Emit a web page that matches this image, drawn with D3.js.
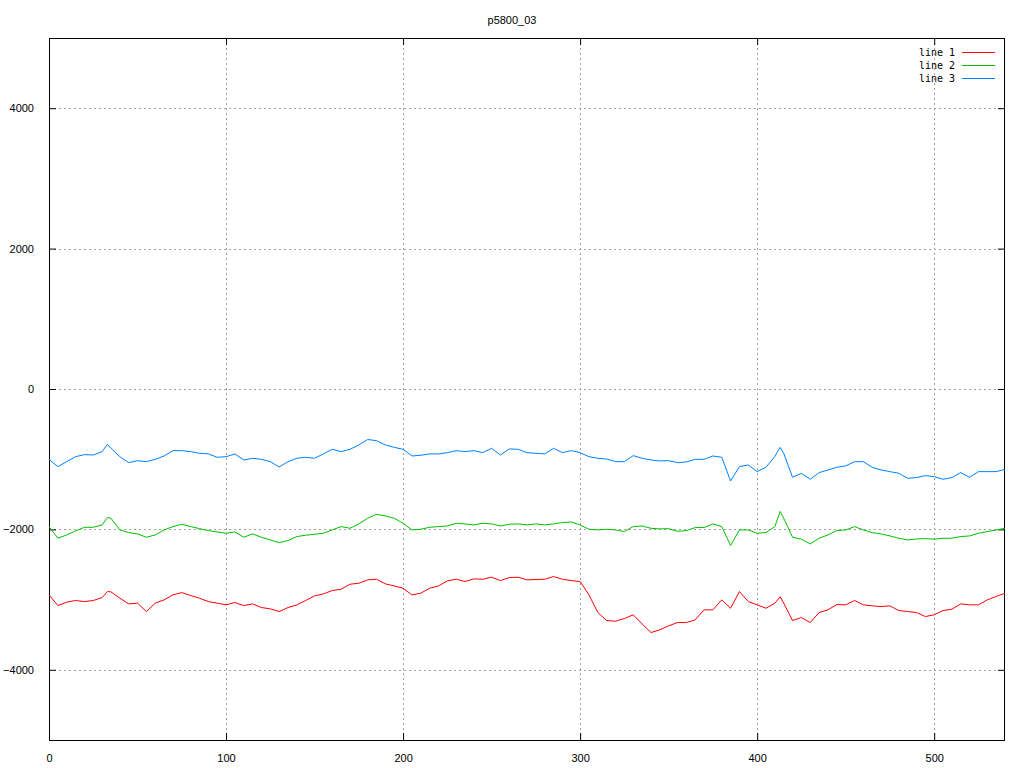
<!DOCTYPE html>
<html>
<head>
<meta charset="utf-8">
<script src="https://cdn.jsdelivr.net/npm/d3@7"></script>
<style>
  html, body { margin: 0; padding: 0; background: #fff; }
  svg { display: block; }
</style>
</head>
<body>
<svg id="chart" width="1024" height="768"></svg>
<script>
const title = "p5800_03";
const seriesNames = ["line 1", "line 2", "line 3"];
const seriesColors = ["#ff0000", "#00c000", "#0080ff"];
const xTicks = [0, 100, 200, 300, 400, 500];
const yTicks = [-4000, -2000, 0, 2000, 4000];

const xValues = [0,5,10,15,20,25,30,33,35,40,45,50,55,60,65,70,75,80,85,90,95,100,105,110,
  115,120,125,130,135,140,145,150,155,160,165,170,175,180,185,190,195,200,205,210,215,220,
  225,230,235,240,245,250,255,260,265,270,275,280,285,290,295,300,305,310,315,320,325,330,335,
  340,345,350,355,360,365,370,375,380,385,390,395,400,405,410,413,415,420,425,430,435,440,445,
  450,455,460,465,470,475,480,485,490,495,500,505,510,515,520,525,530,535,540];

const line1 = [-2933,-3085,-3037,-3013,-3028,-3013,-2971,-2885,-2890,-2980,-3061,-3051,-3170,-3051,-3004,-2933,-2900,-2942,-2980,-3028,-3051,-3075,-3042,-3085,
  -3061,-3113,-3132,-3170,-3113,-3075,-3013,-2947,-2919,-2871,-2852,-2781,-2767,-2719,-2710,-2776,-2805,-2838,-2933,-2909,-2838,-2805,
  -2734,-2710,-2743,-2705,-2710,-2681,-2729,-2686,-2681,-2719,-2714,-2710,-2672,-2710,-2729,-2743,-2933,-3184,-3298,-3308,-3270,-3217,-3346,
  -3469,-3431,-3374,-3327,-3327,-3289,-3146,-3146,-3004,-3123,-2885,-3028,-3075,-3123,-3051,-2960,-3051,-3298,-3256,-3327,-3184,-3146,-3070,
  -3075,-3013,-3075,-3089,-3099,-3089,-3156,-3170,-3184,-3241,-3217,-3156,-3137,-3061,-3075,-3075,-3004,-2956,-2909];

const line2 = [-1960,-2126,-2079,-2022,-1970,-1970,-1936,-1830,-1841,-2008,-2045,-2064,-2112,-2079,-2008,-1960,-1927,-1960,-1989,-2017,-2036,-2055,-2036,-2112,
  -2064,-2112,-2150,-2188,-2159,-2102,-2083,-2069,-2055,-2008,-1960,-1984,-1922,-1841,-1785,-1808,-1841,-1913,-2008,-1998,-1970,-1960,
  -1951,-1913,-1922,-1936,-1913,-1922,-1951,-1927,-1922,-1936,-1922,-1936,-1922,-1903,-1894,-1936,-1998,-2008,-1998,-2008,-2031,-1960,-1951,
  -1984,-1993,-1989,-2027,-2017,-1974,-1974,-1922,-1960,-2230,-2008,-2008,-2055,-2045,-1960,-1745,-1841,-2112,-2140,-2207,-2126,-2079,-2017,
  -2008,-1960,-2008,-2045,-2064,-2093,-2126,-2150,-2136,-2131,-2140,-2126,-2126,-2102,-2093,-2055,-2031,-2008,-1984];

const line3 = [-1002,-1106,-1035,-964,-935,-940,-892,-788,-845,-964,-1049,-1021,-1035,-1002,-954,-878,-878,-892,-916,-925,-973,-964,-925,-1011,
  -987,-1002,-1035,-1110,-1035,-987,-973,-987,-925,-859,-892,-859,-797,-720,-736,-797,-831,-859,-954,-944,-925,-925,
  -907,-878,-892,-878,-907,-845,-940,-854,-859,-907,-916,-925,-845,-907,-878,-907,-964,-987,-997,-1035,-1035,-949,-987,
  -1011,-1025,-1021,-1049,-1040,-1002,-1002,-954,-973,-1310,-1106,-1082,-1177,-1115,-960,-831,-916,-1258,-1201,-1286,-1191,-1153,-1115,
  -1096,-1035,-1035,-1115,-1153,-1177,-1201,-1272,-1262,-1234,-1248,-1286,-1262,-1191,-1258,-1177,-1177,-1177,-1144];

const allSeries = [line1, line2, line3];

const svg = d3.select("#chart");
const W = 1024, H = 768;
const m = {left: 49, top: 38, right: 19, bottom: 28};
const x = d3.scaleLinear().domain([0, 540]).range([m.left, W - m.right]);
const y = d3.scaleLinear().domain([-5000, 5000]).range([H - m.bottom, m.top]);

svg.append("rect").attr("width", W).attr("height", H).attr("fill", "#fff");

// grid
const grid = svg.append("g").attr("stroke", "#a0a0a0").attr("stroke-dasharray", "2,3").attr("stroke-width", 1);
xTicks.filter(t => t > 0).forEach(t => {
  grid.append("line").attr("x1", Math.round(x(t)) + 0.5).attr("x2", Math.round(x(t)) + 0.5)
    .attr("y1", m.top).attr("y2", H - m.bottom);
});
yTicks.forEach(t => {
  grid.append("line").attr("y1", Math.round(y(t)) + 0.5).attr("y2", Math.round(y(t)) + 0.5)
    .attr("x1", m.left).attr("x2", W - m.right);
});

// axes (inward ticks, like gnuplot)
const fontAxis = "11px 'Liberation Sans', Arial, sans-serif";
const axB = svg.append("g").attr("transform", `translate(0,${H - m.bottom})`)
  .call(d3.axisBottom(x).tickValues(xTicks).tickSize(-7).tickPadding(14).tickFormat(d3.format("d")));
const axT = svg.append("g").attr("transform", `translate(0,${m.top})`)
  .call(d3.axisTop(x).tickValues(xTicks).tickSize(-7).tickFormat(""));
const axL = svg.append("g").attr("transform", `translate(${m.left},0)`)
  .call(d3.axisLeft(y).tickValues(yTicks).tickSize(-7).tickPadding(15).tickFormat(d3.format("d")));
const axR = svg.append("g").attr("transform", `translate(${W - m.right},0)`)
  .call(d3.axisRight(y).tickValues(yTicks).tickSize(-7).tickFormat(""));
[axB, axT, axL, axR].forEach(a => {
  a.select(".domain").remove();
  a.selectAll("line").attr("stroke", "#000");
  a.selectAll("text").style("font", fontAxis).attr("fill", "#000");
});
axL.selectAll("text").text(d => d < 0 ? "\u2212" + Math.abs(d) : d);

// frame
svg.append("rect").attr("x", m.left + 0.5).attr("y", m.top + 0.5)
  .attr("width", W - m.left - m.right - 1).attr("height", H - m.top - m.bottom)
  .attr("fill", "none").attr("stroke", "#000").attr("stroke-width", 1);

// lines
const clip = svg.append("clipPath").attr("id", "clip").append("rect")
  .attr("x", m.left).attr("y", m.top).attr("width", W - m.left - m.right).attr("height", H - m.top - m.bottom);
const lineGen = d3.line().x(d => x(d[0])).y(d => y(d[1]));
allSeries.forEach((s, k) => {
  const pts = xValues.map((xv, i) => [xv, s[i]]);
  svg.append("path").datum(pts).attr("d", lineGen)
    .attr("fill", "none").attr("stroke", seriesColors[k]).attr("stroke-width", 1)
    .attr("clip-path", "url(#clip)");
});

// title
svg.append("text").attr("x", 512).attr("y", 24).attr("text-anchor", "middle")
  .style("font", "11px 'Liberation Sans', Arial, sans-serif").text(title);

// legend
const lg = svg.append("g");
seriesNames.forEach((n, k) => {
  const yy = 51.5 + k * 13;
  lg.append("text").attr("x", 955).attr("y", yy + 4).attr("text-anchor", "end")
    .style("font", "10px 'DejaVu Sans Mono', monospace").text(n);
  lg.append("line").attr("x1", 962).attr("x2", 995).attr("y1", Math.round(yy) + 0.5).attr("y2", Math.round(yy) + 0.5)
    .attr("stroke", seriesColors[k]).attr("stroke-width", 1);
});
</script>
</body>
</html>
